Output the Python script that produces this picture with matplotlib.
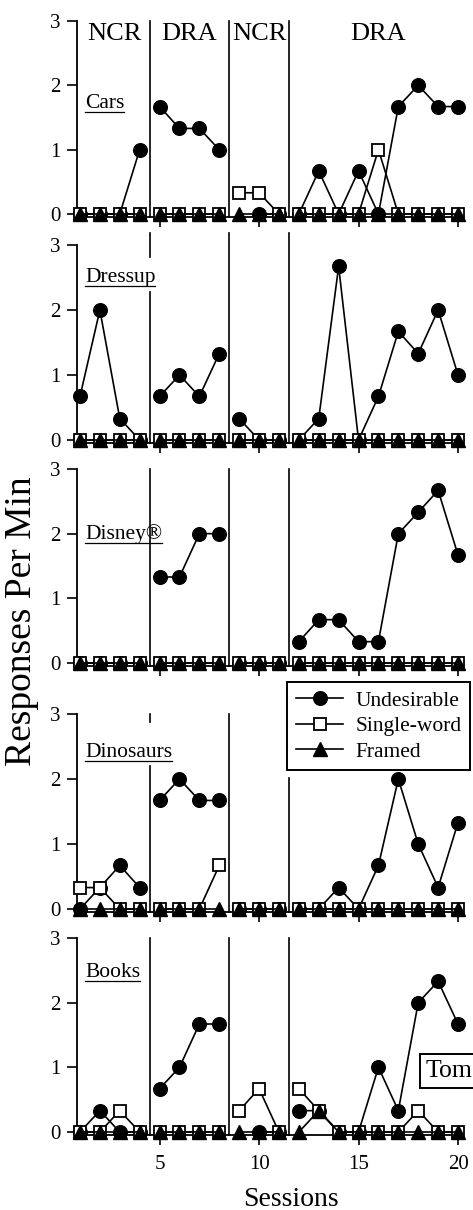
import numpy as np
import matplotlib.pyplot as plt
from matplotlib.lines import Line2D

plt.rcParams['font.family'] = ['Liberation Serif', 'DejaVu Serif']

nan = np.nan
sessions = np.arange(1, 21)
phases = [(1, 4), (5, 8), (9, 11), (12, 20)]
phase_names = ["NCR", "DRA", "NCR", "DRA"]
phase_centers = [2.75, 6.5, 10, 16]
series_names = ["Undesirable", "Single-word", "Framed"]

cars_undesirable = [0, 0, 0, 1, 1.67, 1.33, 1.33, 1, nan, 0, 0,
                    0, 0.67, 0, 0.67, 0, 1.67, 2, 1.67, 1.67]
cars_single = [0, 0, 0, 0, 0, 0, 0, 0, 0.33, 0.33, 0,
               0, 0, 0, 0, 1, 0, 0, 0, 0]
cars_framed = [0] * 20

dressup_undesirable = [0.67, 2, 0.33, 0, 0.67, 1, 0.67, 1.33, 0.33, 0, 0,
                       0, 0.33, 2.67, 0, 0.67, 1.67, 1.33, 2, 1]
dressup_single = [0] * 20
dressup_framed = [0] * 20

disney_undesirable = [0, 0, 0, 0, 1.33, 1.33, 2, 2, 0, 0, 0,
                      0.33, 0.67, 0.67, 0.33, 0.33, 2, 2.33, 2.67, 1.67]
disney_single = [0] * 20
disney_framed = [0] * 20

dino_undesirable = [0, 0.33, 0.67, 0.33, 1.67, 2, 1.67, 1.67, 0, 0, 0,
                    0, 0, 0.33, 0, 0.67, 2, 1, 0.33, 1.33]
dino_single = [0.33, 0.33, 0, 0, 0, 0, 0, 0.67, 0, 0, 0,
               0, 0, 0, 0, 0, 0, 0, 0, 0]
dino_framed = [0] * 20

books_undesirable = [0, 0.33, 0, 0, 0.67, 1, 1.67, 1.67, nan, 0, 0,
                     0.33, 0.33, 0, 0, 1, 0.33, 2, 2.33, 1.67]
books_single = [0, 0, 0.33, 0, 0, 0, 0, 0, 0.33, 0.67, 0,
                0.67, 0.33, 0, 0, 0, 0, 0.33, 0, 0]
books_framed = [0, 0, 0, 0, 0, 0, 0, 0, 0, 0, 0,
                0, 0.33, 0, 0, 0, 0, 0, 0, 0]

W, H = 473, 1210
fig = plt.figure(figsize=(W / 100, H / 100), dpi=100)

ax_left, ax_right = 77, 462
x_lo, x_hi = 0.85, 20.2
y_lo, y_hi = -0.04, 3

# name, data, label y, top px, zero px, phase-line segments
panels = [
    ("Cars", cars_undesirable, cars_single, cars_framed, 1.72, 21, 214,
     [(4.5, y_lo, 3), (8.5, y_lo, 3), (11.5, y_lo, 3)]),
    ("Dressup", dressup_undesirable, dressup_single, dressup_framed, 2.5, 245, 440,
     [(4.5, y_lo, 2.27), (4.5, 2.82, 3.18), (8.5, y_lo, 3.18), (11.5, y_lo, 3.18)]),
    ("Disney®", disney_undesirable, disney_single, disney_framed, 2.0, 469, 663,
     [(4.5, y_lo, 3), (8.5, y_lo, 3), (11.5, y_lo, 3)]),
    ("Dinosaurs", dino_undesirable, dino_single, dino_framed, 2.41, 714, 909,
     [(4.5, y_lo, 2.2), (4.5, 2.88, 3), (8.5, y_lo, 3), (11.5, y_lo, 2.01)]),
    ("Books", books_undesirable, books_single, books_framed, 2.47, 938, 1132,
     [(4.5, y_lo, 3), (8.5, y_lo, 3), (11.5, y_lo, 3)]),
]

name_texts = []
for i, (name, und, sw, fr, label_y, top_px, zero_px, vsegs) in enumerate(panels):
    unit = (zero_px - top_px) / 3
    bottom_px = zero_px - y_lo * unit
    ax = fig.add_axes([ax_left / W, 1 - bottom_px / H,
                       (ax_right - ax_left) / W, (bottom_px - top_px) / H])
    und, sw, fr = np.array(und, float), np.array(sw, float), np.array(fr, float)
    for a, b in phases:
        s = slice(a - 1, b)
        ax.plot(sessions[s], und[s], color='k', lw=1.2, marker='o', ms=9.8,
                mfc='k', mec='k', zorder=3, clip_on=False)
        ax.plot(sessions[s], sw[s], color='k', lw=1.2, marker='s', ms=9.2,
                mfc='white', mec='k', mew=1.3, zorder=4, clip_on=False)
        ax.plot(sessions[s], fr[s], color='k', lw=1.2, marker='^', ms=9.8,
                mfc='k', mec='k', zorder=5, clip_on=False)
    for xv, y0, y1 in vsegs:
        ax.plot([xv, xv], [y0, y1], color='k', lw=1.2, clip_on=False, zorder=2)

    ax.set_xlim(x_lo, x_hi)
    ax.set_ylim(y_lo, y_hi)
    ax.set_yticks([0, 1, 2, 3])
    ax.set_xticks([5, 10, 15, 20])
    for side in ('top', 'right'):
        ax.spines[side].set_visible(False)
    for side in ('left', 'bottom'):
        ax.spines[side].set_linewidth(1.3)
    ax.tick_params(direction='out', length=7, width=1.2, labelsize=15, pad=5)
    ax.tick_params(axis='x', pad=8)
    if i < len(panels) - 1:
        ax.set_xticklabels([])
    ax.set_facecolor('none')

    t = ax.text(1.25, label_y, name, fontsize=15.5, ha='left', va='center')
    name_texts.append(t)

    if i == 0:
        for c, pn in zip(phase_centers, phase_names):
            ax.text(c, 2.8, pn, fontsize=19, ha='center', va='center')

handles = [
    Line2D([], [], color='k', lw=1.2, marker='o', ms=9.8, mfc='k'),
    Line2D([], [], color='k', lw=1.2, marker='s', ms=9.2, mfc='white', mew=1.3),
    Line2D([], [], color='k', lw=1.2, marker='^', ms=9.8, mfc='k'),
]
leg = fig.legend(handles, series_names, loc='upper right',
                 bbox_to_anchor=(470 / W, 1 - 682 / H), fontsize=15.5,
                 frameon=True, fancybox=False, edgecolor='k', framealpha=1,
                 handlelength=2.2, borderpad=0.4, labelspacing=0.25,
                 handletextpad=0.55, borderaxespad=0)
leg.get_frame().set_linewidth(1.4)
leg.set_zorder(10)

fig.text(426 / W, 1 - 1071 / H, "Tom", fontsize=18.5, ha='left', va='center',
         bbox=dict(boxstyle='square,pad=0.22', fc='white', ec='k', lw=1.4))

fig.text(291 / W, 1 - 1199 / H, "Sessions", fontsize=20, ha='center', va='center')
fig.text(22 / W, 1 - 621 / H, "Responses Per Min", fontsize=27, rotation=90,
         ha='center', va='center')

# underline the panel names
fig.canvas.draw()
inv = fig.transFigure.inverted()
for t in name_texts:
    bb = t.get_window_extent()
    (x0, y0), (x1, _) = inv.transform([(bb.x0, bb.y0 + 1), (bb.x1, bb.y0 + 1)])
    fig.add_artist(Line2D([x0, x1], [y0, y0], color='k', lw=0.9,
                          transform=fig.transFigure))

fig.savefig("out.png", dpi=100)
